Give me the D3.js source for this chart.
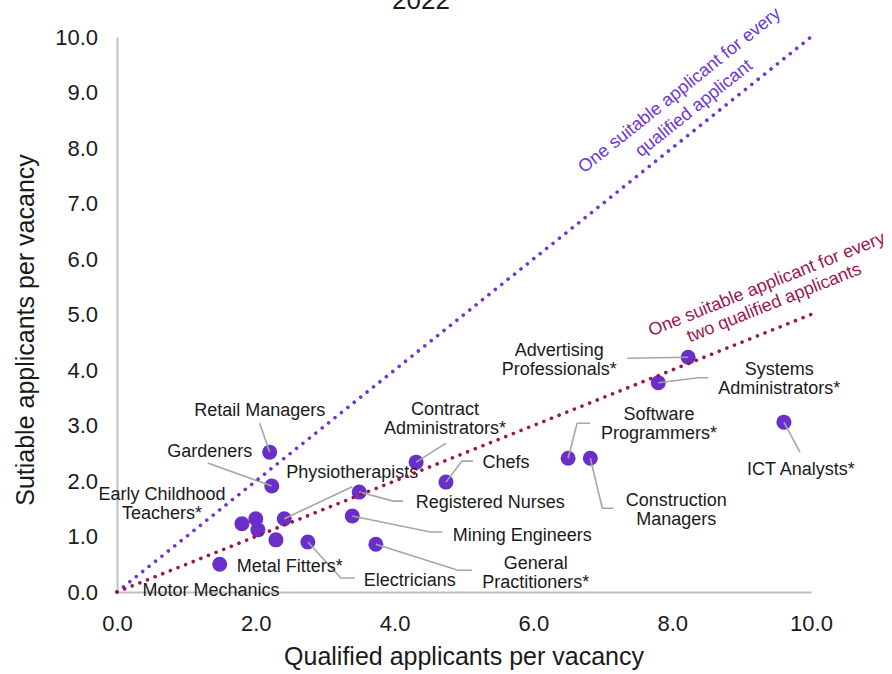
<!DOCTYPE html>
<html>
<head>
<meta charset="utf-8">
<script src="https://cdn.jsdelivr.net/npm/d3@7"></script>
<style>
  body { margin: 0; background: #fff; }
  svg { font-family: "Liberation Sans", Arial, sans-serif; }
  .tick text { fill: #1a1a1a; }
  .lbl { font-size: 18px; fill: #1a1a1a; }
</style>
</head>
<body>
<svg class="scatter" width="892" height="674"></svg>
<script>
// Occupations, qualified and suitable applicants per vacancy (2022)
const occupations = [
  "Metal Fitters*", "Retail Managers", "Gardeners", "Early Childhood Teachers*",
  "", "", "", "Physiotherapists", "Electricians", "Mining Engineers",
  "Registered Nurses", "General Practitioners*", "Contract Administrators*", "Chefs",
  "Software Programmers*", "Construction Managers", "Systems Administrators*",
  "Advertising Professionals*", "ICT Analysts*"
];
const qualified = [1.48, 2.20, 2.23, 1.80, 2.00, 2.03, 2.29, 2.41, 2.75, 3.39,
  3.49, 3.73, 4.31, 4.74, 6.50, 6.82, 7.80, 8.23, 9.61];
const suitable = [0.50, 2.52, 1.91, 1.23, 1.32, 1.12, 0.94, 1.32, 0.90, 1.37,
  1.80, 0.86, 2.34, 1.98, 2.41, 2.41, 3.77, 4.23, 3.06];

const xTicks = [0, 2, 4, 6, 8, 10];
const yTicks = [0, 1, 2, 3, 4, 5, 6, 7, 8, 9, 10];

// reference lines: suitable = ratio * qualified
const refRatios = [1, 0.5];
const refLabels = [
  ["One suitable applicant for every", "qualified applicant"],
  ["One suitable applicant for every", "two qualified applicants"]
];

// label layout: text lines, offset from the point, leader line elbows (px)
const labelLayout = {
  "Metal Fitters*": { lines: ["Metal Fitters*"], dx: 17, dy: 8, anchor: "start", leader: [] },
  "Retail Managers": { lines: ["Retail Managers"], dx: -10, dy: -36, leader: [[-10, -29]] },
  "Gardeners": { lines: ["Gardeners"], dx: -62, dy: -29, leader: [[-64, -23]] },
  "Early Childhood Teachers*": { lines: ["Early Childhood", "Teachers*"], dx: -80, dy: -24, leader: [] },
  "Physiotherapists": { lines: ["Physiotherapists"], dx: 68, dy: -41, leader: [[68, -32]] },
  "Electricians": { lines: ["Electricians"], dx: 102, dy: 44, leader: [[33, 36], [47, 36]] },
  "Mining Engineers": { lines: ["Mining Engineers"], dx: 170, dy: 25, leader: [[78, 16], [90, 16]] },
  "Registered Nurses": { lines: ["Registered Nurses"], dx: 131, dy: 16, leader: [[34, 9], [44, 9]] },
  "General Practitioners*": { lines: ["General", "Practitioners*"], dx: 160, dy: 25, leader: [[82, 26], [96, 26]] },
  "Contract Administrators*": { lines: ["Contract", "Administrators*"], dx: 29, dy: -47, leader: [[30, -19]] },
  "Chefs": { lines: ["Chefs"], dx: 60, dy: -14, leader: [[16, -21], [27, -21]] },
  "Software Programmers*": { lines: ["Software", "Programmers*"], dx: 91, dy: -38, leader: [[9, -35], [22, -35]] },
  "Construction Managers": { lines: ["Construction", "Managers"], dx: 86, dy: 48, leader: [[12, 50], [23, 50]] },
  "Systems Administrators*": { lines: ["Systems", "Administrators*"], dx: 121, dy: -8, leader: [[40, -5], [50, -5]] },
  "Advertising Professionals*": { lines: ["Advertising", "Professionals*"], dx: -129, dy: -1, leader: [[-61, 1]] },
  "ICT Analysts*": { lines: ["ICT Analysts*"], dx: 17, dy: 53, leader: [[16, 30]] }
};

scatterChart();

function scatterChart(margin = { top: 37, right: 81, bottom: 82, left: 117 }) {
  const svg = d3.select(".scatter");
  const width = +svg.attr("width");
  const height = +svg.attr("height");

  const x = d3.scaleLinear().domain([0, 10]).range([margin.left, width - margin.right]);
  const y = d3.scaleLinear().domain([0, 10]).range([height - margin.bottom, margin.top]);

  const data = occupations.map((name, i) => ({ name, q: qualified[i], s: suitable[i] }));

  // Title (cut off at the top in the original)
  svg.append("text")
    .attr("x", 421).attr("y", 9)
    .attr("text-anchor", "middle")
    .attr("font-size", "26px")
    .attr("fill", "#1a1a1a")
    .text("2022");

  // Axes
  svg.append("g")
    .attr("transform", `translate(0,${y(0)})`)
    .call(d3.axisBottom(x).tickValues(xTicks).tickFormat(d3.format(".1f")).tickSize(0).tickPadding(23))
    .call((g) => g.select(".domain").attr("stroke", "#bfbfbf").attr("stroke-width", 2))
    .call((g) => g.selectAll("text").attr("font-size", "22px").attr("font-family", null));

  svg.append("g")
    .attr("transform", `translate(${x(0)},0)`)
    .call(d3.axisLeft(y).tickValues(yTicks).tickFormat(d3.format(".1f")).tickSize(0).tickPadding(19))
    .call((g) => g.select(".domain").attr("stroke", "#bfbfbf").attr("stroke-width", 2))
    .call((g) => g.selectAll("text").attr("font-size", "22px").attr("font-family", null));

  // Axis titles
  svg.append("text")
    .attr("x", 464).attr("y", 665)
    .attr("text-anchor", "middle")
    .attr("font-size", "25px")
    .attr("fill", "#1a1a1a")
    .text("Qualified applicants per vacancy");

  svg.append("text")
    .attr("transform", "translate(34,330) rotate(-90)")
    .attr("text-anchor", "middle")
    .attr("font-size", "25px")
    .attr("fill", "#1a1a1a")
    .text("Sutiable applicants per vacancy");

  // Points
  svg.append("g")
    .selectAll("circle")
    .data(data)
    .join("circle")
    .attr("cx", (d) => x(d.q))
    .attr("cy", (d) => y(d.s))
    .attr("r", 7.5)
    .attr("fill", "#6a2ecb");

  // Leader lines
  const leaders = svg.append("g")
    .attr("fill", "none")
    .attr("stroke", "#a6a6a6")
    .attr("stroke-width", 1.6);

  const labels = svg.append("g").attr("class", "lbl");

  data.forEach((d) => {
    const lay = labelLayout[d.name];
    if (!lay) return;
    const px = x(d.q), py = y(d.s);
    if (lay.leader.length) {
      const pts = [[px, py], ...lay.leader.map(([a, b]) => [px + a, py + b])];
      leaders.append("path").attr("d", d3.line()(pts.reverse()));
    }
    const t = labels.append("text")
      .attr("text-anchor", lay.anchor || "middle")
      .attr("x", px + lay.dx)
      .attr("y", py + lay.dy);
    lay.lines.forEach((line, i) => {
      t.append("tspan")
        .attr("x", px + lay.dx)
        .attr("dy", i === 0 ? 0 : 19)
        .text(line);
    });
  });

  // Motor Mechanics label sits at the origin with no visible marker
  labels.append("text")
    .attr("x", x(0) + 94)
    .attr("y", y(0) + 4)
    .attr("text-anchor", "middle")
    .text("Motor Mechanics");

  // Reference lines
  const refColors = ["#6e34d4", "#9e1450"];
  const labelAt = [8.47, 9.6];
  const labelBase = [[-35, -12], [-39, -19]];

  refRatios.forEach((r, i) => {
    svg.append("path")
      .datum([0, 10])
      .attr("fill", "none")
      .attr("stroke", refColors[i])
      .attr("stroke-width", 3.6)
      .attr("stroke-linecap", "round")
      .attr("stroke-dasharray", "0.01 8.2")
      .attr("d", d3.line().x((v) => x(v)).y((v) => y(v * r)));

    const angle = Math.atan2(y(10 * r) - y(0), x(10) - x(0)) * 180 / Math.PI;
    const ax = x(labelAt[i]), ay = y(labelAt[i] * r);
    const t = svg.append("text")
      .attr("transform", `translate(${ax},${ay}) rotate(${angle})`)
      .attr("text-anchor", "middle")
      .attr("font-size", "18px")
      .attr("fill", refColors[i]);
    refLabels[i].forEach((line, j) => {
      t.append("tspan").attr("x", 0).attr("y", labelBase[i][j]).text(line);
    });
  });
}
</script>
</body>
</html>
